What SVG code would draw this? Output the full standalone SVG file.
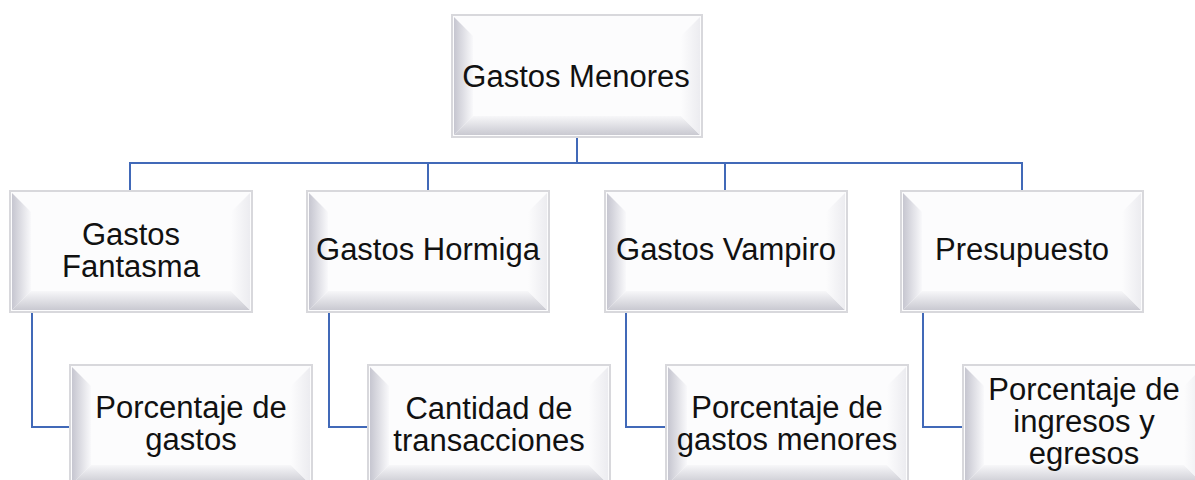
<svg xmlns="http://www.w3.org/2000/svg" xmlns:xlink="http://www.w3.org/1999/xlink" width="1195" height="480" viewBox="0 0 1195 480">
  <style>
    .frame { fill: #fcfcfd; stroke: #d8d8dc; stroke-width: 2; }
    .lbl { font-family: "Liberation Sans", Arial, sans-serif; font-size: 31px; fill: #111111; text-anchor: middle; }
    .conn { fill: none; stroke: #4169b8; stroke-width: 2; }
  </style>
  <defs>
    <linearGradient id="gl" x1="0" y1="0" x2="1" y2="0">
      <stop offset="0" stop-color="#c6c6d0"/>
      <stop offset="1" stop-color="#f9f9fb"/>
    </linearGradient>
    <linearGradient id="gb" x1="0" y1="0" x2="0" y2="1">
      <stop offset="0" stop-color="#f7f7f9"/>
      <stop offset="1" stop-color="#c9c9d1"/>
    </linearGradient>
    <linearGradient id="gr" x1="1" y1="0" x2="0" y2="0">
      <stop offset="0" stop-color="#ececf0"/>
      <stop offset="1" stop-color="#fcfcfd"/>
    </linearGradient>
    <g id="bevel">
      <rect class="frame" x="0" y="0" width="242" height="121"/>
      <polygon points="2,2 21,21 21,100 2,119" fill="url(#gl)"/>
      <polygon points="2,119 21,100 221,100 240,119" fill="url(#gb)"/>
      <polygon points="240,2 240,119 221,100 221,21" fill="url(#gr)"/>
    </g>
  </defs>
  <rect width="1195" height="480" fill="#ffffff"/>

  <g id="connectors">
    <path class="conn" d="M577,137 V163"/>
    <path class="conn" d="M130,191 V163 H1022 V191"/>
    <path class="conn" d="M428,163 V191"/>
    <path class="conn" d="M725,163 V191"/>
    <path class="conn" d="M32,313 V427 H70"/>
    <path class="conn" d="M329,313 V427 H368"/>
    <path class="conn" d="M626,313 V427 H666"/>
    <path class="conn" d="M923,313 V427 H963"/>
  </g>

  <g id="node-gastos-menores" transform="translate(452,15)">
    <rect class="frame" x="0" y="0" width="250" height="122"/>
    <polygon points="2,2 21,21 21,101 2,120" fill="url(#gl)"/>
    <polygon points="2,120 21,101 229,101 248,120" fill="url(#gb)"/>
    <polygon points="248,2 248,120 229,101 229,21" fill="url(#gr)"/>
    <text class="lbl" x="124" y="72">Gastos Menores</text>
  </g>

  <g id="node-gastos-fantasma" transform="translate(10,191)">
    <use xlink:href="#bevel" href="#bevel"/>
    <text class="lbl" x="121" y="54">Gastos</text>
    <text class="lbl" x="121" y="86">Fantasma</text>
  </g>
  <g id="node-gastos-hormiga" transform="translate(307,191)">
    <use xlink:href="#bevel" href="#bevel"/>
    <text class="lbl" x="121" y="69">Gastos Hormiga</text>
  </g>
  <g id="node-gastos-vampiro" transform="translate(605,191)">
    <use xlink:href="#bevel" href="#bevel"/>
    <text class="lbl" x="121" y="69">Gastos Vampiro</text>
  </g>
  <g id="node-presupuesto" transform="translate(901,191)">
    <use xlink:href="#bevel" href="#bevel"/>
    <text class="lbl" x="121" y="69">Presupuesto</text>
  </g>

  <g id="node-porcentaje-gastos" transform="translate(70,365)">
    <use xlink:href="#bevel" href="#bevel"/>
    <text class="lbl" x="121" y="53">Porcentaje de</text>
    <text class="lbl" x="121" y="85">gastos</text>
  </g>
  <g id="node-cantidad-transacciones" transform="translate(368,365)">
    <use xlink:href="#bevel" href="#bevel"/>
    <text class="lbl" x="121" y="54">Cantidad de</text>
    <text class="lbl" x="121" y="86">transacciones</text>
  </g>
  <g id="node-porcentaje-gastos-menores" transform="translate(666,365)">
    <use xlink:href="#bevel" href="#bevel"/>
    <text class="lbl" x="121" y="53">Porcentaje de</text>
    <text class="lbl" x="121" y="85">gastos menores</text>
  </g>
  <g id="node-porcentaje-ingresos-egresos" transform="translate(963,365)">
    <use xlink:href="#bevel" href="#bevel"/>
    <text class="lbl" x="121" y="35">Porcentaje de</text>
    <text class="lbl" x="121" y="67">ingresos y</text>
    <text class="lbl" x="121" y="99">egresos</text>
  </g>
</svg>
